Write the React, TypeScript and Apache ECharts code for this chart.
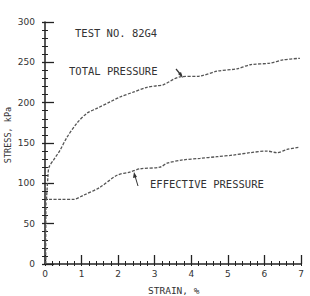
import React, { useEffect, useRef } from "react";
import * as echarts from "echarts";

const totalStrain = [0.04, 0.08, 0.11, 0.25, 0.41, 0.6, 0.88, 1.15, 1.42, 1.78, 2.05, 2.41, 2.79, 3.06, 3.23, 3.69, 4.24, 4.7, 5.25, 5.61, 6.15, 6.51, 6.97];
const totalStress = [80, 108, 120, 130, 141, 157, 175, 187, 193, 201, 207, 213, 219, 221, 222, 232, 233, 239, 242, 247, 249, 253, 255];

const effStrain = [0.02, 0.03, 0.11, 0.45, 0.77, 1.04, 1.5, 1.97, 2.32, 2.6, 3.14, 3.34, 3.77, 4.24, 4.7, 5.14, 5.61, 6.07, 6.34, 6.62, 6.97];
const effStress = [0, 80, 80, 80, 80, 85, 95, 110, 114, 118, 120, 125, 129, 131, 133, 135, 138, 140, 138, 142, 145];

const xMin = 0, xMax = 7, xStep = 1;
const yMin = 0, yMax = 300, yStep = 50;

const INK = "#333";
const MONO = "'DejaVu Sans Mono', monospace";

export default function App() {
  const ref = useRef<HTMLDivElement>(null);
  useEffect(() => {
    if (!ref.current) return;
    const chart = echarts.init(ref.current, null, { renderer: "svg" });
    const lineStyle = { color: "#555", width: 1.3 };
    const zip = (a: number[], b: number[]) => a.map((v, i) => [v, b[i]]);
    chart.setOption({
      animation: false,
      backgroundColor: "#fff",
      grid: { left: 45, right: 9, top: 22, bottom: 32 },
      xAxis: [
        {
          type: "value", position: "bottom", min: xMin, max: xMax, interval: xStep,
          axisLine: { show: true, lineStyle: { color: "#222", width: 1.5 } },
          axisTick: { show: true, inside: true, length: 9, lineStyle: { color: "#222", width: 1.3 } },
          minorTick: { show: true, splitNumber: 5, length: 3, lineStyle: { color: "#222", width: 1 } },
          axisLabel: { margin: 5, color: INK, fontSize: 9, fontFamily: "'DejaVu Sans', sans-serif" },
          splitLine: { show: false },
        },
        {
          type: "value", position: "bottom", min: xMin, max: xMax, interval: xStep,
          axisLine: { show: false },
          axisTick: { show: true, inside: false, length: 2, lineStyle: { color: "#222", width: 1 } },
          minorTick: { show: true, splitNumber: 5, length: 2, lineStyle: { color: "#222", width: 1 } },
          axisLabel: { show: false },
          splitLine: { show: false },
        },
      ],
      yAxis: [
        {
          type: "value", position: "left", min: yMin, max: yMax, interval: yStep,
          axisLine: { show: true, lineStyle: { color: "#222", width: 1.5 } },
          axisTick: { show: true, inside: true, length: 9, lineStyle: { color: "#222", width: 1.3 } },
          minorTick: { show: true, splitNumber: 5, length: 3, lineStyle: { color: "#222", width: 1 } },
          axisLabel: { margin: 10, color: INK, fontSize: 9, fontFamily: "'DejaVu Sans', sans-serif" },
          splitLine: { show: false },
        },
        {
          type: "value", position: "left", min: yMin, max: yMax, interval: yStep,
          axisLine: { show: false },
          axisTick: { show: true, inside: false, length: 3, lineStyle: { color: "#222", width: 1.3 } },
          minorTick: { show: true, splitNumber: 5, length: 3, lineStyle: { color: "#222", width: 1 } },
          axisLabel: { show: false },
          splitLine: { show: false },
        },
      ],
      series: [
        {
          name: "TOTAL PRESSURE", type: "line", xAxisIndex: 0, yAxisIndex: 0,
          data: zip(totalStrain, totalStress), showSymbol: false, smooth: 0.3,
          lineStyle: { ...lineStyle, type: [3, 1.5] },
        },
        {
          name: "EFFECTIVE PRESSURE", type: "line", xAxisIndex: 0, yAxisIndex: 0,
          data: zip(effStrain, effStress), showSymbol: false, smooth: 0.3,
          lineStyle: { ...lineStyle, type: [3, 1.5] },
        },
      ],
      graphic: [
        { type: "text", left: 75, top: 27, style: { text: "TEST NO. 82G4", font: `10.5px ${MONO}`, fill: INK } },
        { type: "text", left: 69, top: 65, style: { text: "TOTAL PRESSURE", font: `10.5px ${MONO}`, fill: INK } },
        { type: "text", left: 150, top: 178, style: { text: "EFFECTIVE PRESSURE", font: `10.5px ${MONO}`, fill: INK } },
        { type: "text", left: 148, top: 285, style: { text: "STRAIN, %", font: `9.5px ${MONO}`, fill: INK } },
        {
          type: "text", x: 8, y: 135, rotation: Math.PI / 2,
          style: { text: "STRESS, kPa", font: `8.5px ${MONO}`, fill: INK, align: "center", verticalAlign: "middle" },
        },
        { type: "line", shape: { x1: 176, y1: 69, x2: 181, y2: 75 }, style: { stroke: "#333", lineWidth: 1.2 } },
        { type: "polygon", shape: { points: [[183, 78], [178, 74], [181, 72]] }, style: { fill: "#333" } },
        { type: "line", shape: { x1: 138, y1: 186, x2: 135, y2: 176 }, style: { stroke: "#333", lineWidth: 1 } },
        { type: "polygon", shape: { points: [[134, 172], [133, 178], [137, 177]] }, style: { fill: "#333" } },
      ],
    });
    return () => chart.dispose();
  }, []);
  return <div ref={ref} style={{ position: "fixed", left: 0, top: 0, width: 310, height: 296 }} />;
}
